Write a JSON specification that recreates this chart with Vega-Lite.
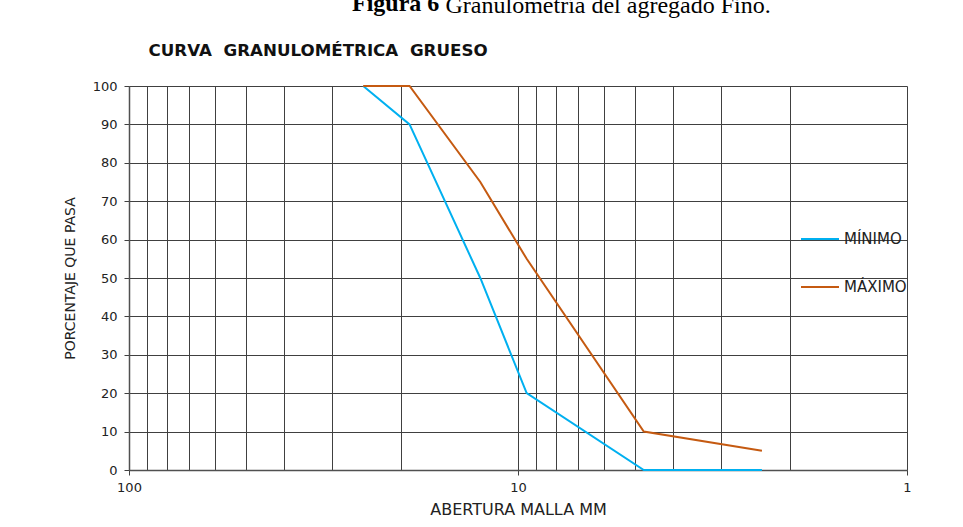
{
  "$schema": "https://vega.github.io/schema/vega-lite/v6.json",
  "autosize": "none",
  "width": 778,
  "height": 384,
  "padding": {"left": 129, "top": 86, "right": 56, "bottom": 57},
  "background": "white",
  "title": {
    "text": "Figura 6",
    "anchor": "start",
    "frame": "group",
    "orient": "top",
    "font": "Liberation Serif",
    "fontSize": 24,
    "fontWeight": "bold",
    "color": "#000000",
    "baseline": "alphabetic",
    "offset": 0,
    "dx": 223,
    "dy": 42
  },
  "data": {
    "values": [
      {"curva": "MÍNIMO", "abertura": 25, "pasa": 100},
      {"curva": "MÍNIMO", "abertura": 19, "pasa": 90},
      {"curva": "MÍNIMO", "abertura": 12.5, "pasa": 50},
      {"curva": "MÍNIMO", "abertura": 9.5, "pasa": 20},
      {"curva": "MÍNIMO", "abertura": 4.75, "pasa": 0},
      {"curva": "MÍNIMO", "abertura": 2.36, "pasa": 0},
      {"curva": "MÁXIMO", "abertura": 25, "pasa": 100},
      {"curva": "MÁXIMO", "abertura": 19, "pasa": 100},
      {"curva": "MÁXIMO", "abertura": 12.5, "pasa": 75},
      {"curva": "MÁXIMO", "abertura": 9.5, "pasa": 55},
      {"curva": "MÁXIMO", "abertura": 4.75, "pasa": 10},
      {"curva": "MÁXIMO", "abertura": 2.36, "pasa": 5}
    ]
  },
  "encoding": {
    "color": {
      "field": "curva",
      "type": "nominal",
      "scale": {"domain": ["MÍNIMO", "MÁXIMO"], "range": ["#00B0F0", "#C55A11"]},
      "legend": {
        "orient": "none",
        "legendX": 671,
        "legendY": 133,
        "title": null,
        "symbolType": "stroke",
        "symbolSize": 1444,
        "symbolStrokeWidth": 2,
        "labelFont": "DejaVu Sans",
        "labelFontSize": 15,
        "labelColor": "#222222",
        "labelOffset": 4,
        "rowPadding": 20,
        "padding": 0,
        "direction": "vertical"
      }
    }
  },
  "layer": [
    {
      "transform": [{"filter": "datum.curva == 'MÍNIMO'"}],
      "mark": {"type": "line", "strokeWidth": 2},
      "encoding": {
        "x": {
          "field": "abertura",
          "type": "quantitative",
          "scale": {"type": "log", "domain": [1, 100], "reverse": true, "nice": false},
          "axis": {
            "orient": "bottom",
            "values": [100, 90, 80, 70, 60, 50, 40, 30, 20, 10, 9, 8, 7, 6, 5, 4, 3, 2, 1],
            "format": "~g",
            "labelExpr": "datum.value == 100 || datum.value == 10 || datum.value == 1 ? datum.label : ''",
            "grid": true,
            "gridColor": "#404040",
            "gridWidth": 1,
            "domainColor": "#505050",
            "domainWidth": 1.5,
            "tickColor": "#404040",
            "tickSize": 5,
            "tickOpacity": {"condition": {"test": "datum.value == 100 || datum.value == 10 || datum.value == 1", "value": 1}, "value": 0},
            "labelFont": "DejaVu Sans",
            "labelFontSize": 13,
            "labelColor": "#222222",
            "labelPadding": 6,
            "labelOverlap": false,
            "labelFlush": false,
            "labelBound": false,
            "title": "ABERTURA MALLA MM",
            "titleFont": "DejaVu Sans",
            "titleFontSize": 16,
            "titleFontWeight": "normal",
            "titleColor": "#222222",
            "titleX": 389,
            "titleY": 39,
            "titleAlign": "center",
            "titleBaseline": "middle"
          }
        },
        "y": {
          "field": "pasa",
          "type": "quantitative",
          "scale": {"domain": [0, 100], "nice": false},
          "axis": {
            "orient": "left",
            "values": [0, 10, 20, 30, 40, 50, 60, 70, 80, 90, 100],
            "grid": true,
            "gridColor": "#404040",
            "gridWidth": 1,
            "domainColor": "#505050",
            "domainWidth": 1.5,
            "tickColor": "#404040",
            "tickSize": 5,
            "labelFont": "DejaVu Sans",
            "labelFontSize": 13,
            "labelColor": "#222222",
            "labelPadding": 7,
            "title": "PORCENTAJE QUE PASA",
            "titleFont": "DejaVu Sans",
            "titleFontSize": 14,
            "titleFontWeight": "normal",
            "titleColor": "#222222",
            "titleAngle": -90,
            "titleX": -59,
            "titleY": 192,
            "titleAlign": "center",
            "titleBaseline": "middle"
          }
        }
      }
    },
    {
      "transform": [{"filter": "datum.curva == 'MÁXIMO'"}],
      "mark": {"type": "line", "strokeWidth": 2},
      "encoding": {
        "x": {
          "field": "abertura",
          "type": "quantitative",
          "scale": {"type": "log", "domain": [1, 100], "reverse": true, "nice": false},
          "axis": {
            "orient": "top",
            "labels": false,
            "ticks": false,
            "domain": false,
            "grid": false,
            "title": "Granulometría del agregado Fino.",
            "titleFont": "Liberation Serif",
            "titleFontSize": 24,
            "titleFontWeight": "normal",
            "titleColor": "#000000",
            "titleAngle": 0,
            "titleX": 316,
            "titleY": -74,
            "titleAlign": "left",
            "titleBaseline": "alphabetic"
          }
        },
        "y": {
          "field": "pasa",
          "type": "quantitative",
          "scale": {"domain": [0, 100], "nice": false},
          "axis": {
            "orient": "right",
            "labels": false,
            "ticks": false,
            "domain": false,
            "grid": false,
            "title": "CURVA\u00a0\u00a0GRANULOMÉTRICA\u00a0\u00a0GRUESO",
            "titleFont": "DejaVu Sans",
            "titleFontSize": 16.7,
            "titleFontWeight": "bold",
            "titleColor": "#111111",
            "titleAngle": 0,
            "titleX": -759,
            "titleY": -31,
            "titleAlign": "left",
            "titleBaseline": "alphabetic"
          }
        }
      }
    }
  ],
  "resolve": {"axis": {"x": "independent", "y": "independent"}},
  "config": {"view": {"stroke": null}}
}
